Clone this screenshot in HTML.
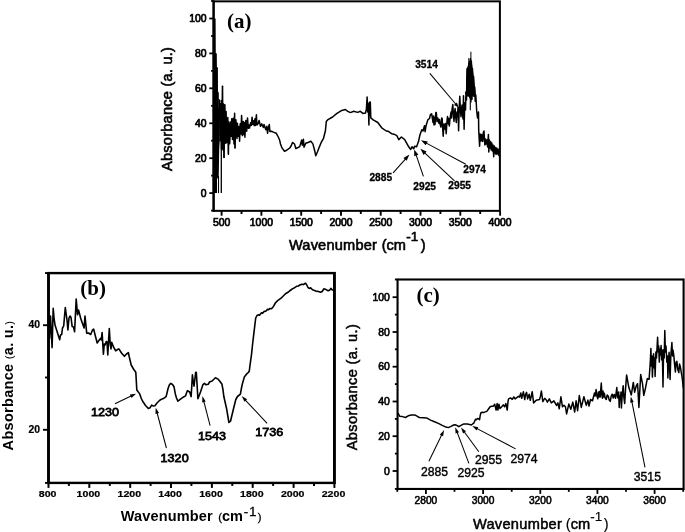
<!DOCTYPE html>
<html><head><meta charset="utf-8"><title>FTIR spectra</title>
<style>
html,body{margin:0;padding:0;background:#fff;}
body{width:685px;height:532px;overflow:hidden;}
svg{display:block;}
text{fill:#000;}
</style></head><body>
<svg width="685" height="532" viewBox="0 0 685 532">
<rect x="0" y="0" width="685" height="532" fill="#fff"/>
<rect x="213.60" y="1.35" width="286.30" height="209.50" fill="none" stroke="#000" stroke-width="2.0"/>
<line x1="213.6" y1="0.4" x2="213.6" y2="211.8" stroke="#000" stroke-width="2.1"/>
<line x1="209.3" y1="193.1" x2="213.6" y2="193.1" stroke="#000" stroke-width="1.8"/>
<text x="206.6" y="196.7" font-size="10.4" text-anchor="end" font-weight="normal" font-family='"Liberation Sans", sans-serif' stroke="#000" stroke-width="0.7" >0</text>
<line x1="209.3" y1="158.2" x2="213.6" y2="158.2" stroke="#000" stroke-width="1.8"/>
<text x="206.6" y="161.8" font-size="10.4" text-anchor="end" font-weight="normal" font-family='"Liberation Sans", sans-serif' stroke="#000" stroke-width="0.7" >20</text>
<line x1="209.3" y1="123.3" x2="213.6" y2="123.3" stroke="#000" stroke-width="1.8"/>
<text x="206.6" y="126.9" font-size="10.4" text-anchor="end" font-weight="normal" font-family='"Liberation Sans", sans-serif' stroke="#000" stroke-width="0.7" >40</text>
<line x1="209.3" y1="88.3" x2="213.6" y2="88.3" stroke="#000" stroke-width="1.8"/>
<text x="206.6" y="91.9" font-size="10.4" text-anchor="end" font-weight="normal" font-family='"Liberation Sans", sans-serif' stroke="#000" stroke-width="0.7" >60</text>
<line x1="209.3" y1="53.4" x2="213.6" y2="53.4" stroke="#000" stroke-width="1.8"/>
<text x="206.6" y="57.0" font-size="10.4" text-anchor="end" font-weight="normal" font-family='"Liberation Sans", sans-serif' stroke="#000" stroke-width="0.7" >80</text>
<line x1="209.3" y1="18.5" x2="213.6" y2="18.5" stroke="#000" stroke-width="1.8"/>
<text x="206.6" y="22.1" font-size="10.4" text-anchor="end" font-weight="normal" font-family='"Liberation Sans", sans-serif' stroke="#000" stroke-width="0.7" >100</text>
<line x1="211.1" y1="210.6" x2="213.6" y2="210.6" stroke="#000" stroke-width="1.8"/>
<line x1="211.1" y1="175.6" x2="213.6" y2="175.6" stroke="#000" stroke-width="1.8"/>
<line x1="211.1" y1="140.7" x2="213.6" y2="140.7" stroke="#000" stroke-width="1.8"/>
<line x1="211.1" y1="105.8" x2="213.6" y2="105.8" stroke="#000" stroke-width="1.8"/>
<line x1="211.1" y1="70.9" x2="213.6" y2="70.9" stroke="#000" stroke-width="1.8"/>
<line x1="211.1" y1="36.0" x2="213.6" y2="36.0" stroke="#000" stroke-width="1.8"/>
<line x1="211.1" y1="1.0" x2="213.6" y2="1.0" stroke="#000" stroke-width="1.8"/>
<line x1="221.6" y1="210.8" x2="221.6" y2="215.7" stroke="#000" stroke-width="1.9"/>
<text x="221.6" y="225.8" font-size="10.4" text-anchor="middle" font-weight="normal" font-family='"Liberation Sans", sans-serif' stroke="#000" stroke-width="0.7" >500</text>
<line x1="261.4" y1="210.8" x2="261.4" y2="215.7" stroke="#000" stroke-width="1.9"/>
<text x="261.4" y="225.8" font-size="10.4" text-anchor="middle" font-weight="normal" font-family='"Liberation Sans", sans-serif' stroke="#000" stroke-width="0.7" >1000</text>
<line x1="301.2" y1="210.8" x2="301.2" y2="215.7" stroke="#000" stroke-width="1.9"/>
<text x="301.2" y="225.8" font-size="10.4" text-anchor="middle" font-weight="normal" font-family='"Liberation Sans", sans-serif' stroke="#000" stroke-width="0.7" >1500</text>
<line x1="341.0" y1="210.8" x2="341.0" y2="215.7" stroke="#000" stroke-width="1.9"/>
<text x="341.0" y="225.8" font-size="10.4" text-anchor="middle" font-weight="normal" font-family='"Liberation Sans", sans-serif' stroke="#000" stroke-width="0.7" >2000</text>
<line x1="380.7" y1="210.8" x2="380.7" y2="215.7" stroke="#000" stroke-width="1.9"/>
<text x="380.7" y="225.8" font-size="10.4" text-anchor="middle" font-weight="normal" font-family='"Liberation Sans", sans-serif' stroke="#000" stroke-width="0.7" >2500</text>
<line x1="420.5" y1="210.8" x2="420.5" y2="215.7" stroke="#000" stroke-width="1.9"/>
<text x="420.5" y="225.8" font-size="10.4" text-anchor="middle" font-weight="normal" font-family='"Liberation Sans", sans-serif' stroke="#000" stroke-width="0.7" >3000</text>
<line x1="460.3" y1="210.8" x2="460.3" y2="215.7" stroke="#000" stroke-width="1.9"/>
<text x="460.3" y="225.8" font-size="10.4" text-anchor="middle" font-weight="normal" font-family='"Liberation Sans", sans-serif' stroke="#000" stroke-width="0.7" >3500</text>
<line x1="500.1" y1="210.8" x2="500.1" y2="215.7" stroke="#000" stroke-width="1.9"/>
<text x="500.1" y="225.8" font-size="10.4" text-anchor="middle" font-weight="normal" font-family='"Liberation Sans", sans-serif' stroke="#000" stroke-width="0.7" >4000</text>
<line x1="241.5" y1="210.8" x2="241.5" y2="214.0" stroke="#000" stroke-width="1.9"/>
<line x1="281.3" y1="210.8" x2="281.3" y2="214.0" stroke="#000" stroke-width="1.9"/>
<line x1="321.1" y1="210.8" x2="321.1" y2="214.0" stroke="#000" stroke-width="1.9"/>
<line x1="360.8" y1="210.8" x2="360.8" y2="214.0" stroke="#000" stroke-width="1.9"/>
<line x1="400.6" y1="210.8" x2="400.6" y2="214.0" stroke="#000" stroke-width="1.9"/>
<line x1="440.4" y1="210.8" x2="440.4" y2="214.0" stroke="#000" stroke-width="1.9"/>
<line x1="480.2" y1="210.8" x2="480.2" y2="214.0" stroke="#000" stroke-width="1.9"/>
<text font-family='"Liberation Sans", sans-serif' font-size="14.6" font-weight="normal" stroke="#000" stroke-width="0.6"><tspan x="288.9" y="249.6" textLength="88.0" lengthAdjust="spacing">Wavenumber</tspan><tspan x="377.6" y="249.6" font-size="14.6" font-weight="normal" stroke="#000" stroke-width="0.6"> (</tspan><tspan y="249.6">cm</tspan><tspan x="406.2" y="241.4" font-size="13.5" font-weight="normal" letter-spacing="0" stroke="#000" stroke-width="0.6">-1</tspan><tspan x="420.7" y="249.6" font-size="14.6" font-weight="normal" stroke="#000" stroke-width="0.6">)</tspan></text>
<text x="172.4" y="109.0" font-size="14.6" text-anchor="middle" font-weight="normal" font-family='"Liberation Sans", sans-serif' stroke="#000" stroke-width="0.6" transform="rotate(-90 172.4 109.0)" textLength="124.0" lengthAdjust="spacing">Absorbance (a. u.)</text>
<text x="227.1" y="28.2" font-size="21" text-anchor="start" font-weight="bold" font-family='"Liberation Serif", serif' >(a)</text>
<polygon points="212.9,18.5 215.6,18.5 215.8,53 216.8,53.5 216.9,67 217.9,67.5 218,92 218.8,92.5 218.9,108 219.7,109 219.7,141 219.2,150 218.7,178 217,178.5 217,193.1 212.9,193.1" fill="#000"/>
<line x1="218.5" y1="176.0" x2="218.5" y2="193.1" stroke="#000" stroke-width="1.1"/>
<line x1="221.3" y1="100.0" x2="221.3" y2="193.1" stroke="#000" stroke-width="1.3"/>
<rect x="219.4" y="103" width="2" height="38.5" fill="#000"/>
<polygon points="465.9,95 466.2,82 467,68.7 468.7,62 470.9,58 472.2,64.7 474,77.9 475.3,89.7 475.8,95 474,97 472,96 470,97 468,96" fill="#000"/>
<polyline points="219.5,100.0 220.3,135.2 220.9,105.6 221.5,149.0 222.5,86.3 223.0,150.0 223.5,104.0 223.9,157.5 224.9,104.7 225.4,143.3 226.1,111.6 226.7,142.8 227.8,117.4 228.4,154.2 228.9,121.9 229.7,143.8 230.6,122.0 231.2,136.3 231.7,118.7 232.5,139.5 233.2,118.3 234.0,143.9 234.6,113.3 235.0,147.8 235.9,119.8 237.0,138.5 237.4,123.2 238.1,136.5 239.0,126.6 239.6,141.2 240.2,123.8 240.9,134.1 241.6,115.4 242.4,135.6 243.3,121.5 244.0,134.7 244.6,122.5 244.9,137.3 245.8,120.5 246.7,131.2 247.5,117.9 248.3,128.3 249.1,124.9 249.5,128.1 250.6,122.8 251.3,125.4 252.1,117.3 252.7,124.4 253.6,120.7 254.2,125.6 255.0,118.7 255.4,125.5 256.4,114.7 256.9,124.9 258.2,123.4 259.1,120.4 260.5,126.3 261.7,123.9 263.4,127.5 264.0,124.5 265.8,129.8 266.9,126.3 267.5,133.3 268.4,128.0 269.3,124.5 269.9,131.5 271.5,131.2 273.4,132.1 276.3,133.3 278.3,137.0 279.7,140.3 280.5,144.0 282.0,147.9 284.5,151.3 287.0,150.0 289.9,147.9 291.3,145.5 292.5,142.4 294.5,144.0 295.8,148.5 298.0,147.5 299.7,146.6 301.7,140.0 302.3,145.2 303.4,139.3 304.0,147.2 305.7,143.3 308.0,142.5 310.9,141.3 312.9,143.9 314.5,150.0 315.8,155.8 317.5,151.8 319.5,146.6 321.4,142.0 323.4,138.7 325.4,130.8 326.3,121.6 328.0,119.6 332.6,117.0 336.6,113.7 341.8,110.4 345.4,109.5 347.8,111.3 350.4,112.6 353.7,111.3 357.6,112.4 360.3,111.3 362.9,113.4 365.5,113.0 366.4,109.0 367.1,97.0 367.7,112.0 368.3,104.0 368.9,125.0 369.3,102.3 369.8,115.0 370.3,102.1 370.8,117.9 373.2,119.9 377.8,122.5 381.7,127.8 386.3,131.0 388.0,131.2 391.6,133.7 394.0,134.2 396.8,135.7 398.8,139.6 401.4,137.0 404.7,139.6 408.7,146.8 410.7,149.5 412.0,146.8 413.7,148.8 414.6,146.2 416.6,146.8 418.5,141.6 419.9,135.0 421.8,129.7 423.0,131.0 424.5,125.8 425.1,131.7 426.0,126.0 427.8,119.9 429.5,118.5 430.5,114.5 431.7,113.9 432.3,118.0 433.0,122.5 433.6,116.0 434.0,125.0 434.6,118.0 435.0,124.5 435.8,112.6 436.3,112.6 437.0,121.6 437.8,118.0 438.9,123.2 439.5,119.5 440.0,123.7 440.9,127.1 441.7,117.9 442.2,118.6 442.9,132.0 443.2,136.3 444.0,124.0 444.9,129.0 445.5,123.5 446.2,133.7 446.9,122.0 447.5,116.6 448.3,124.0 448.8,118.5 449.3,126.0 450.0,119.2 451.0,112.0 451.6,118.0 452.1,109.0 452.8,104.5 453.4,114.0 454.0,121.4 454.6,112.0 455.1,108.5 455.7,117.0 456.3,122.5 457.0,112.0 457.5,117.0 458.0,107.4 458.6,130.7 459.2,108.0 459.8,96.3 460.4,110.0 461.0,116.7 461.6,108.0 462.1,105.0 462.6,114.0 463.0,119.0 463.5,95.7 464.1,129.2 464.6,108.0 465.0,102.7 465.5,110.0 465.9,95.0 465.8,92.0 466.5,99.9 467.0,68.7 467.5,95.7 468.0,67.5 468.7,96.1 469.3,63.7 469.8,97.7 470.4,58.7 470.9,102.0 471.4,61.4 472.0,99.3 472.5,68.8 473.0,94.3 473.6,76.6 474.1,96.0 474.7,87.0 475.2,101.2 475.8,95.0 476.7,111.0 477.5,118.0 478.5,112.0 478.7,129.9 479.6,146.2 480.1,134.0 480.6,141.0 481.4,134.5 481.9,141.0 482.3,135.0 482.8,141.5 483.3,132.5 484.0,131.0 484.4,138.0 484.9,145.0 485.6,139.0 486.2,144.0 487.0,140.0 487.6,147.0 488.4,134.5 488.8,152.0 489.4,140.0 489.9,148.0 490.7,141.7 491.2,150.0 491.8,143.0 492.4,151.0 493.0,145.0 493.7,156.7 494.3,146.0 494.9,153.0 495.4,147.4 496.0,154.5 496.7,148.0 497.3,154.0 498.0,149.0 498.9,155.6 499.5,149.7" fill="none" stroke="#000" stroke-width="1.5" stroke-linejoin="round" stroke-linecap="round" />
<polyline points="470.3,95.0 470.3,109.7" fill="none" stroke="#000" stroke-width="1.1" stroke-linejoin="round" stroke-linecap="round" />
<polyline points="224.2,140.0 224.2,157.4" fill="none" stroke="#000" stroke-width="1.1" stroke-linejoin="round" stroke-linecap="round" />
<polyline points="228.4,135.0 228.4,154.0" fill="none" stroke="#000" stroke-width="1.1" stroke-linejoin="round" stroke-linecap="round" />
<polyline points="235.0,135.0 235.0,148.2" fill="none" stroke="#000" stroke-width="1.1" stroke-linejoin="round" stroke-linecap="round" />
<polyline points="222.5,86.3 222.5,120.0" fill="none" stroke="#000" stroke-width="1.1" stroke-linejoin="round" stroke-linecap="round" />
<polyline points="470.9,52.1 470.9,70.0" fill="none" stroke="#000" stroke-width="1.0" stroke-linejoin="round" stroke-linecap="round" />
<polyline points="468.8,58.5 468.8,75.0" fill="none" stroke="#000" stroke-width="1.0" stroke-linejoin="round" stroke-linecap="round" />
<line x1="393.1" y1="172.9" x2="405.8" y2="158.6" stroke="#000" stroke-width="1.05"/><polygon points="409.4,154.5 406.7,160.8 403.4,157.9" fill="#000"/>
<line x1="423.4" y1="176.4" x2="416.0" y2="154.6" stroke="#000" stroke-width="1.05"/><polygon points="414.2,149.4 418.4,154.8 414.2,156.3" fill="#000"/>
<line x1="454.5" y1="180.8" x2="424.4" y2="152.6" stroke="#000" stroke-width="1.05"/><polygon points="420.4,148.8 426.6,151.6 423.6,154.9" fill="#000"/>
<line x1="465.8" y1="164.2" x2="425.9" y2="142.9" stroke="#000" stroke-width="1.05"/><polygon points="421.0,140.3 427.8,141.4 425.7,145.3" fill="#000"/>
<line x1="429.8" y1="73.3" x2="456.1" y2="104.5" stroke="#000" stroke-width="1.05"/><polygon points="458.7,107.6 454.0,105.0 456.9,102.6" fill="#000"/>
<text x="369.4" y="181.4" font-size="10.2" text-anchor="start" font-weight="bold" font-family='"Liberation Sans", sans-serif' stroke="#000" stroke-width="0.3" >2885</text>
<text x="413.3" y="189.5" font-size="10.2" text-anchor="start" font-weight="bold" font-family='"Liberation Sans", sans-serif' stroke="#000" stroke-width="0.3" >2925</text>
<text x="448.3" y="188.6" font-size="10.2" text-anchor="start" font-weight="bold" font-family='"Liberation Sans", sans-serif' stroke="#000" stroke-width="0.3" >2955</text>
<text x="463.3" y="172.8" font-size="10.2" text-anchor="start" font-weight="bold" font-family='"Liberation Sans", sans-serif' stroke="#000" stroke-width="0.3" >2974</text>
<text x="415.2" y="67.9" font-size="10.2" text-anchor="start" font-weight="bold" font-family='"Liberation Sans", sans-serif' stroke="#000" stroke-width="0.3" >3514</text>
<rect x="48.50" y="273.10" width="285.90" height="209.80" fill="none" stroke="#000" stroke-width="2.4"/>
<line x1="48.5" y1="272.0" x2="48.5" y2="484.0" stroke="#000" stroke-width="2.7"/>
<line x1="334.4" y1="272.0" x2="334.4" y2="484.0" stroke="#000" stroke-width="2.7"/>
<line x1="43.0" y1="429.8" x2="48.5" y2="429.8" stroke="#000" stroke-width="1.9"/>
<text x="40.1" y="432.5" font-size="10.4" text-anchor="end" font-weight="bold" font-family='"Liberation Sans", sans-serif' stroke="#000" stroke-width="0.2" >20</text>
<line x1="43.0" y1="325.2" x2="48.5" y2="325.2" stroke="#000" stroke-width="1.9"/>
<text x="40.1" y="327.9" font-size="10.4" text-anchor="end" font-weight="bold" font-family='"Liberation Sans", sans-serif' stroke="#000" stroke-width="0.2" >40</text>
<line x1="45.0" y1="482.9" x2="48.5" y2="482.9" stroke="#000" stroke-width="1.9"/>
<line x1="45.0" y1="377.5" x2="48.5" y2="377.5" stroke="#000" stroke-width="1.9"/>
<line x1="45.0" y1="273.1" x2="48.5" y2="273.1" stroke="#000" stroke-width="1.9"/>
<line x1="48.5" y1="482.9" x2="48.5" y2="487.9" stroke="#000" stroke-width="2.0"/>
<text transform="translate(47.6 497.1) scale(1.13 1)" font-size="9.4" text-anchor="middle" font-weight="bold" font-family='"Liberation Sans", sans-serif' stroke="#000" stroke-width="0.2" >800</text>
<line x1="89.3" y1="482.9" x2="89.3" y2="487.9" stroke="#000" stroke-width="2.0"/>
<text transform="translate(88.4 497.1) scale(1.13 1)" font-size="9.4" text-anchor="middle" font-weight="bold" font-family='"Liberation Sans", sans-serif' stroke="#000" stroke-width="0.2" >1000</text>
<line x1="130.2" y1="482.9" x2="130.2" y2="487.9" stroke="#000" stroke-width="2.0"/>
<text transform="translate(129.3 497.1) scale(1.13 1)" font-size="9.4" text-anchor="middle" font-weight="bold" font-family='"Liberation Sans", sans-serif' stroke="#000" stroke-width="0.2" >1200</text>
<line x1="171.0" y1="482.9" x2="171.0" y2="487.9" stroke="#000" stroke-width="2.0"/>
<text transform="translate(170.1 497.1) scale(1.13 1)" font-size="9.4" text-anchor="middle" font-weight="bold" font-family='"Liberation Sans", sans-serif' stroke="#000" stroke-width="0.2" >1400</text>
<line x1="211.9" y1="482.9" x2="211.9" y2="487.9" stroke="#000" stroke-width="2.0"/>
<text transform="translate(211.0 497.1) scale(1.13 1)" font-size="9.4" text-anchor="middle" font-weight="bold" font-family='"Liberation Sans", sans-serif' stroke="#000" stroke-width="0.2" >1600</text>
<line x1="252.7" y1="482.9" x2="252.7" y2="487.9" stroke="#000" stroke-width="2.0"/>
<text transform="translate(251.8 497.1) scale(1.13 1)" font-size="9.4" text-anchor="middle" font-weight="bold" font-family='"Liberation Sans", sans-serif' stroke="#000" stroke-width="0.2" >1800</text>
<line x1="293.6" y1="482.9" x2="293.6" y2="487.9" stroke="#000" stroke-width="2.0"/>
<text transform="translate(292.7 497.1) scale(1.13 1)" font-size="9.4" text-anchor="middle" font-weight="bold" font-family='"Liberation Sans", sans-serif' stroke="#000" stroke-width="0.2" >2000</text>
<line x1="334.4" y1="482.9" x2="334.4" y2="487.9" stroke="#000" stroke-width="2.0"/>
<text transform="translate(333.5 497.1) scale(1.13 1)" font-size="9.4" text-anchor="middle" font-weight="bold" font-family='"Liberation Sans", sans-serif' stroke="#000" stroke-width="0.2" >2200</text>
<line x1="68.9" y1="482.9" x2="68.9" y2="485.9" stroke="#000" stroke-width="2.0"/>
<line x1="109.8" y1="482.9" x2="109.8" y2="485.9" stroke="#000" stroke-width="2.0"/>
<line x1="150.6" y1="482.9" x2="150.6" y2="485.9" stroke="#000" stroke-width="2.0"/>
<line x1="191.4" y1="482.9" x2="191.4" y2="485.9" stroke="#000" stroke-width="2.0"/>
<line x1="232.3" y1="482.9" x2="232.3" y2="485.9" stroke="#000" stroke-width="2.0"/>
<line x1="273.1" y1="482.9" x2="273.1" y2="485.9" stroke="#000" stroke-width="2.0"/>
<line x1="314.0" y1="482.9" x2="314.0" y2="485.9" stroke="#000" stroke-width="2.0"/>
<text font-family='"Liberation Sans", sans-serif' font-size="14.5" font-weight="bold"><tspan x="120.8" y="521.4" textLength="91.8" lengthAdjust="spacing">Wavenumber</tspan><tspan x="215.2" y="521.0" font-size="11.2" font-weight="normal" stroke="#000" stroke-width="0.3"> (</tspan><tspan y="521.4">cm</tspan><tspan x="243.8" y="515.6" font-size="13.5" font-weight="normal" letter-spacing="0.6" stroke="#000" stroke-width="0.3">-1</tspan><tspan x="257.7" y="521.0" font-size="11.2" font-weight="normal" stroke="#000" stroke-width="0.3">)</tspan></text>
<text x="13.2" y="385.7" font-size="14.5" text-anchor="middle" font-weight="bold" font-family='"Liberation Sans", sans-serif' transform="rotate(-90 13.2 385.7)" textLength="129.4" lengthAdjust="spacing">Absorbance <tspan font-size="11.2" font-weight="normal">(</tspan>a. u.<tspan font-size="11.2" font-weight="normal">)</tspan></text>
<text x="80.3" y="294.6" font-size="21" text-anchor="start" font-weight="bold" font-family='"Liberation Serif", serif' >(b)</text>
<polyline points="48.6,318.7 49.5,338.4 50.5,316.0 51.2,330.0 52.1,347.6 53.2,308.2 54.0,318.0 55.1,325.3 58.4,335.8 59.7,339.7 60.5,335.0 61.7,334.5 62.5,328.0 63.7,325.9 65.3,307.5 67.0,320.0 67.9,329.9 69.0,318.0 70.0,316.0 71.0,317.5 72.2,326.6 73.5,327.0 74.6,331.8 76.2,299.0 77.5,314.7 78.6,310.1 80.8,318.7 84.1,327.9 85.0,316.0 86.7,333.2 88.5,333.0 90.7,334.5 92.5,330.0 93.7,329.2 95.3,335.8 97.2,343.0 98.5,341.0 100.5,338.4 101.3,340.0 102.1,332.5 103.4,354.2 104.3,344.0 105.1,345.0 106.2,341.5 107.0,342.0 107.8,354.9 108.6,340.0 109.3,328.6 110.2,344.0 111.0,348.9 111.7,342.4 113.5,347.0 115.7,350.9 117.5,349.5 118.9,348.9 121.5,353.0 124.4,356.3 126.5,354.0 128.4,352.6 129.3,357.0 131.2,365.0 133.5,369.0 135.8,372.2 136.3,381.0 136.8,390.0 138.3,392.0 139.7,393.9 141.3,398.5 143.0,401.8 145.5,405.5 148.3,408.4 150.0,407.8 151.6,405.1 153.3,406.0 154.9,405.8 157.0,403.0 159.5,400.5 161.5,399.2 163.4,398.6 166.1,396.6 167.0,393.0 168.0,388.7 169.3,385.0 170.7,383.4 172.5,384.5 174.0,386.7 175.3,393.9 176.5,398.0 177.9,401.2 180.5,399.2 183.2,397.2 185.5,395.9 186.5,393.0 187.4,390.7 189.7,392.0 191.1,396.6 191.8,386.0 192.4,374.9 193.2,381.0 194.0,386.1 194.9,379.0 195.7,372.2 196.3,372.5 197.0,383.4 197.9,398.8 199.0,396.0 200.5,392.0 202.9,384.7 204.5,383.4 206.0,384.8 208.2,384.3 209.5,382.0 212.1,381.0 215.4,377.8 218.0,379.1 220.0,381.5 222.0,384.3 223.0,390.0 223.9,396.8 226.6,408.7 228.9,422.5 230.5,421.2 233.2,410.0 235.8,399.5 237.5,396.5 240.4,394.2 241.3,389.0 242.4,383.7 244.3,377.1 246.5,374.2 248.3,372.5 249.3,371.0 249.9,366.0 251.5,354.6 252.6,344.0 253.8,333.9 255.7,318.0 257.0,315.5 258.5,314.8 259.5,315.3 261.5,312.8 262.6,313.2 264.1,311.4 265.8,311.2 267.5,309.2 268.6,309.8 269.8,308.5 271.2,308.8 272.6,307.6 274.0,305.5 275.4,302.9 278.0,300.3 281.1,298.2 283.5,295.8 285.8,293.5 288.0,292.3 289.5,291.0 291.5,289.5 293.3,288.4 295.0,287.5 296.5,286.3 298.3,286.0 299.9,285.0 301.5,284.3 303.5,284.5 305.5,283.2 306.5,284.5 308.0,287.5 309.3,288.4 310.6,287.8 312.5,289.8 315.9,291.1 318.5,291.5 320.6,292.2 322.2,291.5 323.8,288.8 326.0,289.6 328.1,290.7 329.5,290.2 330.9,288.4 332.3,290.0 333.7,290.3" fill="none" stroke="#000" stroke-width="1.6" stroke-linejoin="round" stroke-linecap="round" />
<line x1="115.0" y1="403.7" x2="131.6" y2="395.8" stroke="#000" stroke-width="1.05"/><polygon points="136.1,393.7 131.4,397.9 129.9,394.6" fill="#000"/>
<line x1="166.4" y1="448.0" x2="157.0" y2="412.5" stroke="#000" stroke-width="1.05"/><polygon points="155.7,407.7 159.0,413.0 155.5,414.0" fill="#000"/>
<line x1="210.1" y1="425.6" x2="203.7" y2="400.9" stroke="#000" stroke-width="1.05"/><polygon points="202.4,396.1 205.7,401.5 202.2,402.4" fill="#000"/>
<line x1="267.1" y1="423.4" x2="245.1" y2="399.8" stroke="#000" stroke-width="1.05"/><polygon points="241.7,396.1 247.1,399.3 244.5,401.7" fill="#000"/>
<text transform="translate(91.0 415.8) scale(1.07 1)" font-size="11.8" text-anchor="start" font-weight="normal" font-family='"Liberation Sans", sans-serif' stroke="#000" stroke-width="0.75" >1230</text>
<text transform="translate(160.6 461.9) scale(1.07 1)" font-size="11.8" text-anchor="start" font-weight="normal" font-family='"Liberation Sans", sans-serif' stroke="#000" stroke-width="0.75" >1320</text>
<text transform="translate(198.0 440.3) scale(1.07 1)" font-size="11.8" text-anchor="start" font-weight="normal" font-family='"Liberation Sans", sans-serif' stroke="#000" stroke-width="0.75" >1543</text>
<text transform="translate(255.3 436.0) scale(1.07 1)" font-size="11.8" text-anchor="start" font-weight="normal" font-family='"Liberation Sans", sans-serif' stroke="#000" stroke-width="0.75" >1736</text>
<rect x="397.55" y="279.50" width="286.05" height="209.45" fill="none" stroke="#000" stroke-width="2.1"/>
<line x1="392.6" y1="471.0" x2="397.6" y2="471.0" stroke="#000" stroke-width="1.8"/>
<text x="389.9" y="474.6" font-size="10.4" text-anchor="end" font-weight="normal" font-family='"Liberation Sans", sans-serif' stroke="#000" stroke-width="0.6" >0</text>
<line x1="392.6" y1="436.2" x2="397.6" y2="436.2" stroke="#000" stroke-width="1.8"/>
<text x="389.9" y="439.8" font-size="10.4" text-anchor="end" font-weight="normal" font-family='"Liberation Sans", sans-serif' stroke="#000" stroke-width="0.6" >20</text>
<line x1="392.6" y1="401.5" x2="397.6" y2="401.5" stroke="#000" stroke-width="1.8"/>
<text x="389.9" y="405.1" font-size="10.4" text-anchor="end" font-weight="normal" font-family='"Liberation Sans", sans-serif' stroke="#000" stroke-width="0.6" >40</text>
<line x1="392.6" y1="366.7" x2="397.6" y2="366.7" stroke="#000" stroke-width="1.8"/>
<text x="389.9" y="370.3" font-size="10.4" text-anchor="end" font-weight="normal" font-family='"Liberation Sans", sans-serif' stroke="#000" stroke-width="0.6" >60</text>
<line x1="392.6" y1="332.0" x2="397.6" y2="332.0" stroke="#000" stroke-width="1.8"/>
<text x="389.9" y="335.6" font-size="10.4" text-anchor="end" font-weight="normal" font-family='"Liberation Sans", sans-serif' stroke="#000" stroke-width="0.6" >80</text>
<line x1="392.6" y1="297.2" x2="397.6" y2="297.2" stroke="#000" stroke-width="1.8"/>
<text x="389.9" y="300.8" font-size="10.4" text-anchor="end" font-weight="normal" font-family='"Liberation Sans", sans-serif' stroke="#000" stroke-width="0.6" >100</text>
<line x1="394.9" y1="488.9" x2="397.6" y2="488.9" stroke="#000" stroke-width="1.8"/>
<line x1="394.9" y1="453.6" x2="397.6" y2="453.6" stroke="#000" stroke-width="1.8"/>
<line x1="394.9" y1="418.9" x2="397.6" y2="418.9" stroke="#000" stroke-width="1.8"/>
<line x1="394.9" y1="384.1" x2="397.6" y2="384.1" stroke="#000" stroke-width="1.8"/>
<line x1="394.9" y1="349.3" x2="397.6" y2="349.3" stroke="#000" stroke-width="1.8"/>
<line x1="394.9" y1="314.6" x2="397.6" y2="314.6" stroke="#000" stroke-width="1.8"/>
<line x1="394.9" y1="279.5" x2="397.6" y2="279.5" stroke="#000" stroke-width="1.8"/>
<line x1="425.9" y1="488.9" x2="425.9" y2="493.9" stroke="#000" stroke-width="1.8"/>
<text x="425.9" y="503.7" font-size="10.2" text-anchor="middle" font-weight="normal" font-family='"Liberation Sans", sans-serif' stroke="#000" stroke-width="0.55" >2800</text>
<line x1="483.1" y1="488.9" x2="483.1" y2="493.9" stroke="#000" stroke-width="1.8"/>
<text x="483.1" y="503.7" font-size="10.2" text-anchor="middle" font-weight="normal" font-family='"Liberation Sans", sans-serif' stroke="#000" stroke-width="0.55" >3000</text>
<line x1="540.3" y1="488.9" x2="540.3" y2="493.9" stroke="#000" stroke-width="1.8"/>
<text x="540.3" y="503.7" font-size="10.2" text-anchor="middle" font-weight="normal" font-family='"Liberation Sans", sans-serif' stroke="#000" stroke-width="0.55" >3200</text>
<line x1="597.4" y1="488.9" x2="597.4" y2="493.9" stroke="#000" stroke-width="1.8"/>
<text x="597.4" y="503.7" font-size="10.2" text-anchor="middle" font-weight="normal" font-family='"Liberation Sans", sans-serif' stroke="#000" stroke-width="0.55" >3400</text>
<line x1="654.6" y1="488.9" x2="654.6" y2="493.9" stroke="#000" stroke-width="1.8"/>
<text x="654.6" y="503.7" font-size="10.2" text-anchor="middle" font-weight="normal" font-family='"Liberation Sans", sans-serif' stroke="#000" stroke-width="0.55" >3600</text>
<line x1="397.3" y1="488.9" x2="397.3" y2="491.8" stroke="#000" stroke-width="1.8"/>
<line x1="454.5" y1="488.9" x2="454.5" y2="491.8" stroke="#000" stroke-width="1.8"/>
<line x1="511.7" y1="488.9" x2="511.7" y2="491.8" stroke="#000" stroke-width="1.8"/>
<line x1="568.8" y1="488.9" x2="568.8" y2="491.8" stroke="#000" stroke-width="1.8"/>
<line x1="626.0" y1="488.9" x2="626.0" y2="491.8" stroke="#000" stroke-width="1.8"/>
<line x1="683.2" y1="488.9" x2="683.2" y2="491.8" stroke="#000" stroke-width="1.8"/>
<text font-family='"Liberation Sans", sans-serif' font-size="14.6" font-weight="normal" stroke="#000" stroke-width="0.5"><tspan x="472.9" y="529.0" textLength="89.0" lengthAdjust="spacing">Wavenumber</tspan><tspan x="561.8" y="529.0" font-size="14.6" font-weight="normal" stroke="#000" stroke-width="0.15"> (</tspan><tspan y="529.0">cm</tspan><tspan x="590.2" y="520.8" font-size="13.5" font-weight="normal" letter-spacing="0" stroke="#000" stroke-width="0.15">-1</tspan><tspan x="603.8" y="529.0" font-size="14.6" font-weight="normal" stroke="#000" stroke-width="0.15">)</tspan></text>
<text x="357.5" y="387.2" font-size="14.6" text-anchor="middle" font-weight="normal" font-family='"Liberation Sans", sans-serif' stroke="#000" stroke-width="0.5" transform="rotate(-90 357.5 387.2)" textLength="126.0" lengthAdjust="spacing">Absorbance (a. u.)</text>
<text x="416.4" y="302.4" font-size="21" text-anchor="start" font-weight="bold" font-family='"Liberation Serif", serif' >(c)</text>
<polyline points="398.3,413.6 399.6,416.2 402.5,416.6 405.5,417.5 408.2,415.8 411.5,415.1 414.7,414.9 417.0,416.2 419.3,417.5 423.0,417.7 426.6,417.9 430.5,420.1 434.5,421.8 438.4,423.4 441.7,425.1 445.0,426.7 447.0,427.3 448.9,427.4 451.0,426.4 453.6,425.0 455.2,424.8 456.8,425.4 458.8,426.7 461.0,425.3 463.4,424.1 467.4,424.1 469.5,424.4 471.3,425.0 474.0,422.8 475.5,419.2 476.3,419.8 477.5,418.4 478.6,418.8 479.6,419.6 480.2,415.5 480.9,412.8 482.5,412.2 484.0,412.4 486.8,411.4 488.5,409.0 490.1,406.8 491.7,406.2 493.4,406.2 494.7,404.2 496.1,410.1 497.1,403.6 497.9,410.0 498.9,404.2 500.0,408.6 501.7,406.8 503.3,404.9 504.6,406.8 505.9,403.6 507.2,410.1 508.1,401.0 508.6,398.9 510.5,397.9 512.3,399.3 513.8,397.0 515.1,398.9 516.8,397.6 518.4,396.3 519.6,397.0 520.8,393.0 521.7,398.3 523.4,391.7 524.7,399.6 525.7,394.0 526.6,392.4 527.6,398.9 529.2,394.3 530.3,400.3 531.3,396.0 532.2,391.7 533.0,398.0 533.6,402.9 536.2,400.3 539.5,399.6 540.5,396.0 541.4,391.0 542.2,397.0 542.8,401.6 544.7,398.3 546.0,399.5 547.4,402.2 549.3,398.9 551.3,402.9 553.9,400.9 556.6,405.5 557.9,402.9 559.2,408.8 560.9,396.8 562.5,406.8 564.0,405.3 565.5,407.0 566.6,413.9 568.8,404.1 570.8,409.3 572.8,402.1 574.7,412.0 576.1,400.8 577.6,410.7 579.3,395.5 581.3,407.4 583.9,396.8 586.3,405.4 587.9,400.1 589.0,406.0 590.5,399.5 592.5,400.8 594.5,392.9 595.2,396.0 596.1,389.6 596.9,396.0 597.8,398.8 598.4,392.0 599.0,397.0 599.7,391.6 600.2,397.0 600.6,391.0 601.3,383.0 601.9,395.0 602.4,398.2 603.0,391.0 603.6,397.0 604.3,393.2 605.2,398.0 606.3,399.5 607.2,395.0 608.3,396.2 609.2,400.0 610.3,401.4 611.2,396.0 612.2,394.2 613.2,398.0 614.2,394.5 615.5,398.2 616.8,387.6 617.5,397.0 618.2,398.2 618.7,392.0 619.2,407.4 619.9,396.0 620.5,398.2 621.0,392.0 621.4,408.0 622.3,394.0 623.2,385.7 623.9,398.0 624.7,403.4 625.6,388.0 626.6,375.0 628.8,387.3 631.3,394.9 633.3,382.4 634.6,392.2 636.3,385.7 637.6,383.7 638.9,407.4 640.7,374.6 642.5,383.7 643.8,395.4 645.5,388.0 647.3,378.6 649.1,379.3 650.3,362.0 650.9,348.6 651.4,366.0 651.9,356.0 652.4,377.1 653.0,362.0 653.6,353.8 654.2,368.0 654.7,358.0 655.1,376.4 655.9,352.0 656.5,358.0 657.6,337.3 658.2,352.0 658.7,346.0 659.3,362.1 659.9,349.0 660.4,355.0 661.1,345.6 661.7,360.0 662.3,350.0 663.0,386.9 663.6,350.0 664.2,358.0 664.8,330.5 665.4,352.0 666.0,346.0 666.8,362.1 667.4,356.0 667.9,377.9 668.5,360.0 669.1,352.3 669.6,368.0 670.1,379.4 670.8,356.0 671.9,342.6 672.5,356.0 673.0,350.0 673.9,356.1 674.5,364.0 675.4,371.9 676.1,362.0 676.9,361.4 677.7,369.0 678.8,372.6 679.5,364.0 680.3,366.6 681.2,372.0 682.1,377.1 683.3,387.7" fill="none" stroke="#000" stroke-width="1.5" stroke-linejoin="round" stroke-linecap="round" />
<line x1="428.9" y1="461.2" x2="441.9" y2="434.6" stroke="#000" stroke-width="1.05"/><polygon points="444.1,430.1 443.1,436.3 439.8,434.7" fill="#000"/>
<line x1="468.9" y1="463.4" x2="457.0" y2="431.9" stroke="#000" stroke-width="1.05"/><polygon points="455.2,427.2 459.0,432.2 455.6,433.4" fill="#000"/>
<line x1="478.8" y1="451.7" x2="464.0" y2="431.5" stroke="#000" stroke-width="1.05"/><polygon points="461.0,427.5 466.0,431.3 463.1,433.4" fill="#000"/>
<line x1="515.6" y1="448.9" x2="476.6" y2="428.4" stroke="#000" stroke-width="1.05"/><polygon points="472.2,426.1 478.3,427.3 476.7,430.5" fill="#000"/>
<line x1="645.0" y1="467.3" x2="631.8" y2="401.4" stroke="#000" stroke-width="1.05"/><polygon points="630.8,396.5 633.7,402.0 630.2,402.7" fill="#000"/>
<text x="421.0" y="476.3" font-size="12.2" text-anchor="start" font-weight="normal" font-family='"Liberation Sans", sans-serif' stroke="#000" stroke-width="0.4" >2885</text>
<text x="457.5" y="477.4" font-size="12.2" text-anchor="start" font-weight="normal" font-family='"Liberation Sans", sans-serif' stroke="#000" stroke-width="0.4" >2925</text>
<text x="475.0" y="464.3" font-size="12.2" text-anchor="start" font-weight="normal" font-family='"Liberation Sans", sans-serif' stroke="#000" stroke-width="0.4" >2955</text>
<text x="510.4" y="463.1" font-size="12.2" text-anchor="start" font-weight="normal" font-family='"Liberation Sans", sans-serif' stroke="#000" stroke-width="0.4" >2974</text>
<text x="633.8" y="480.6" font-size="12.2" text-anchor="start" font-weight="normal" font-family='"Liberation Sans", sans-serif' stroke="#000" stroke-width="0.4" >3515</text>
</svg>
</body></html>
